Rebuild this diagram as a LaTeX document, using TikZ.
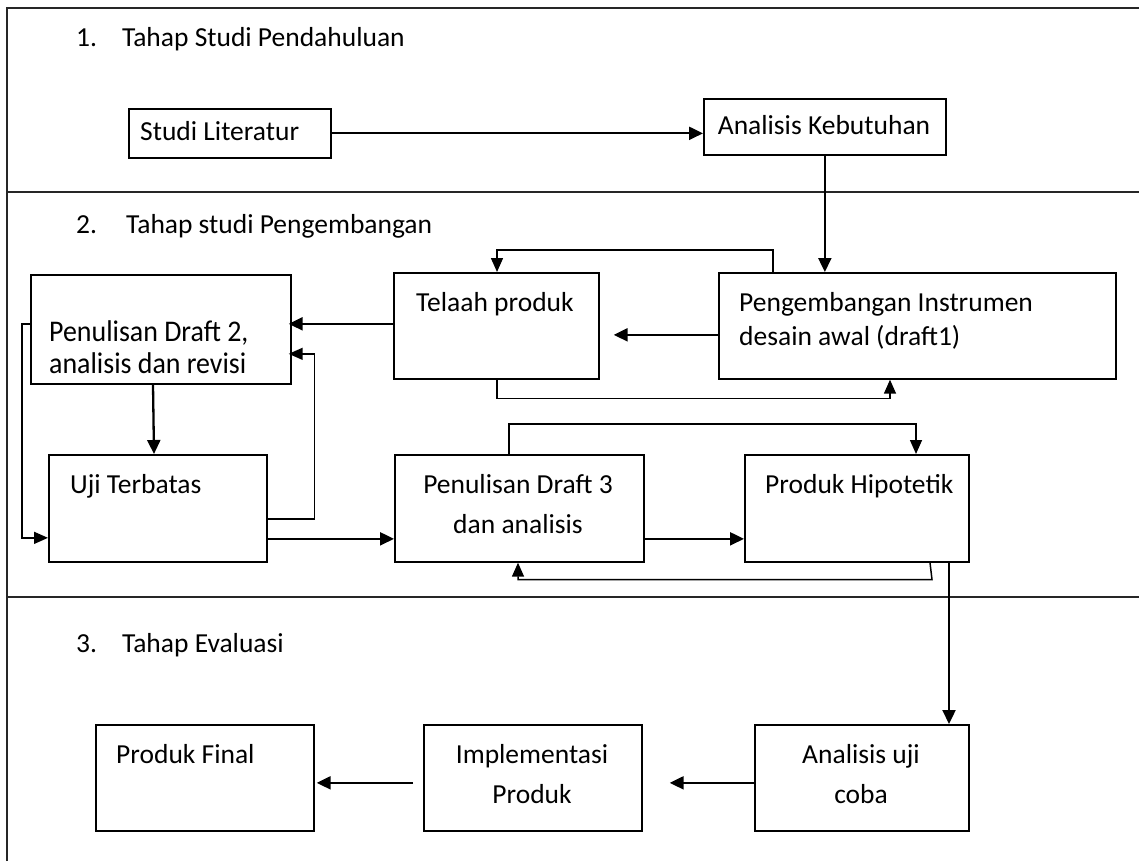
\documentclass[tikz,border=0pt]{standalone}
\usepackage{fontspec}
\setmainfont{Carlito}
\newfontfamily\narrowcal[FakeStretch=0.93]{Carlito}
\usetikzlibrary{arrows.meta,calc}
\begin{document}
\begin{tikzpicture}[x=1pt,y=-1pt,
  box/.style={draw, line width=1.7pt, inner sep=0pt, anchor=north west},
  txt/.style={inner sep=0pt, font=\fontsize{27.5}{33}\selectfont},
  thk/.style={line width=2.3pt, -{Triangle[length=14pt,width=13pt]}},
  thn/.style={line width=1.5pt, -{Triangle[length=14pt,width=12pt]}},
  frameline/.style={line width=1.7pt, black!85}]
\useasboundingbox (0,0) rectangle (1139,861);
% frame
\draw[frameline] (7,861) -- (7,8) -- (1139,8);
\draw[frameline] (7,192) -- (1139,192);
\draw[frameline] (7,597) -- (1139,597);
% titles
\node[txt, anchor=base west] (t1) at (76,47) {1.\hskip 25pt Tahap Studi Pendahuluan};
\node[txt, anchor=base west] (t2) at (76,233) {2.\hskip 29pt Tahap studi Pengembangan};
\node[txt, anchor=base west] (t3) at (76,652) {3.\hskip 25pt Tahap Evaluasi};
% boxes
\node[box, minimum width=202pt, minimum height=49pt] (lit) at (128,108) {};
\node[box, minimum width=242pt, minimum height=56pt] (keb) at (703,98) {};
\node[box, minimum width=205pt, minimum height=106pt] (telaah) at (393,272) {};
\node[box, minimum width=397pt, minimum height=106pt] (peng) at (718,272) {};
\node[box, minimum width=260pt, minimum height=109pt] (d2) at (30,274) {};
\node[box, minimum width=218pt, minimum height=107pt] (uji) at (48,454) {};
\node[box, minimum width=249pt, minimum height=107pt] (d3) at (394,454) {};
\node[box, minimum width=224pt, minimum height=107pt] (hip) at (744,454) {};
\node[box, minimum width=218pt, minimum height=106pt] (final) at (95,724) {};
\node[box, minimum width=218pt, minimum height=106pt] (impl) at (423,724) {};
\node[box, minimum width=214pt, minimum height=106pt] (auc) at (754,724) {};
% texts
\node[txt, anchor=base west] (xlit) at (140,141) {Studi Literatur};
\node[txt, anchor=base] (xkeb) at (824,135) {Analisis Kebutuhan};
\node[txt, anchor=base west] (xtel) at (416,311) {Telaah produk};
\node[txt, anchor=base west] (xpeng1) at (739,311) {Pengembangan Instrumen};
\node[txt, anchor=base west] (xpeng2) at (739,345) {desain awal (draft1)};
\node[txt, anchor=base west, font=\narrowcal\fontsize{30}{32}\selectfont] (xd2a) at (49,341) {Penulisan Draft 2,};
\node[txt, anchor=base west, font=\narrowcal\fontsize{30}{32}\selectfont] (xd2b) at (49,373) {analisis dan revisi};
\node[txt, anchor=base west] (xuji) at (70,493) {Uji Terbatas};
\node[txt, anchor=base] (xd3a) at (518,493) {Penulisan Draft 3};
\node[txt, anchor=base] (xd3b) at (518,533) {dan analisis};
\node[txt, anchor=base west] (xhip) at (765,493) {Produk Hipotetik};
\node[txt, anchor=base west] (xfin) at (116,763) {Produk Final};
\node[txt, anchor=base] (ximpa) at (532,763) {Implementasi};
\node[txt, anchor=base] (ximpb) at (532,803) {Produk};
\node[txt, anchor=base] (xauca) at (861,763) {Analisis uji};
\node[txt, anchor=base] (xaucb) at (861,803) {coba};
% connectors
\draw[thk] (lit.east) -- (lit.east -| keb.west);
\draw[thk] (keb.south) -- (keb.south |- peng.north);
\draw[thk] ($(peng.west)+(0,9)$) -- ($(telaah.east)+(14,9)$);
\draw[thn] ($(peng.north west)+(55,0)$) -- ++(0,-22) -| ($(telaah.north west)+(104,0)$);
\draw[thn] ($(telaah.south west)+(104,0)$) -- ++(0,19) -| ($(peng.south west)+(172,0)$);
\draw[thk] ($(telaah.west)+(0,-2)$) -- ($(d2.east |- telaah.west)+(-3,-2)$);
\draw[thn] ($(uji.east)+(0,10.5)$) -- ++(47,0) |- ($(d2.east)+(-3,24.5)$);
\draw[thn] ($(d2.west)+(0,-5.5)$) -- ++(-8,0) |- ($(uji.west)+(0,29.5)$);
\draw[thk] ($(d2.south west)+(123,0)$) -- ($(uji.north west)+(106,0)$);
\draw[thk] ($(uji.east)+(0,30.5)$) -- ($(d3.west)+(0,30.5)$);
\draw[thn] ($(d3.north west)+(115,0)$) -- ++(0,-30) -| ($(hip.north west)+(172,0)$);
\draw[thk] ($(d3.east)+(0,30.5)$) -- ($(hip.west)+(0,30.5)$);
\draw[thn] ($(hip.south west)+(186,0)$) -- ++(2,17) -| ($(d3.south west)+(124,0)$);
\draw[thk] ($(hip.south west)+(205,0)$) -- ($(auc.north west)+(195,0)$);
\draw[thk] ($(auc.west)+(0,5)$) -- ($(impl.east)+(27,5)$);
\draw[thk] ($(impl.west)+(-10,5)$) -- ($(final.east)+(2,5)$);
\end{tikzpicture}
\end{document}
